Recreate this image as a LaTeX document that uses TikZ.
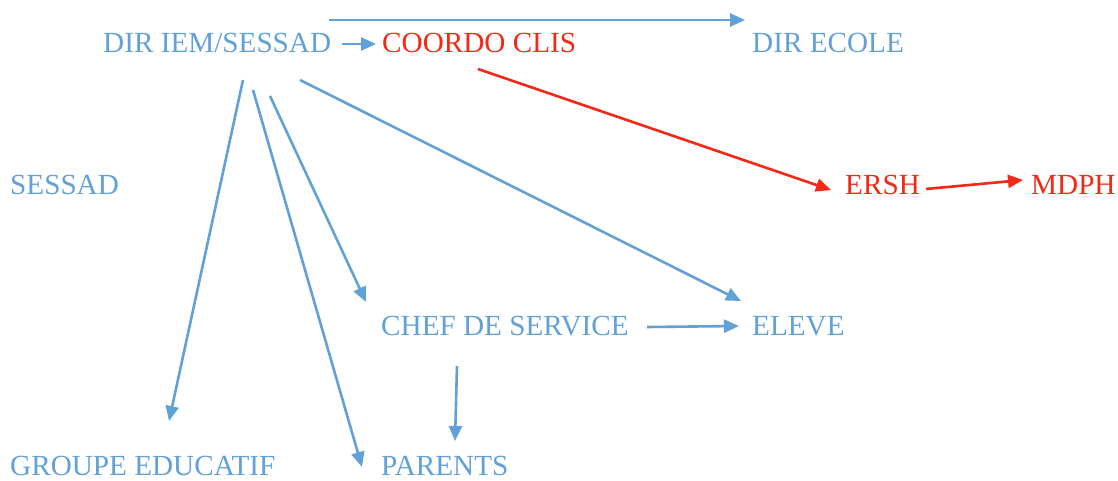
\documentclass[tikz,border=0pt]{standalone}
\usepackage{fontspec}
\setmainfont{Liberation Serif}
\usetikzlibrary{arrows.meta}
\definecolor{bl}{RGB}{98,160,216}
\definecolor{rd}{RGB}{244,40,20}
\begin{document}
\begin{tikzpicture}[x=1pt,y=-1pt,
  lbl/.style={anchor=base west,inner sep=0pt,font=\fontsize{29.2}{30}\selectfont},
  bt/.style={lbl,text=bl},
  rt/.style={lbl,text=rd},
  ba/.style={draw=bl,line width=2.6pt,-{Triangle[length=15pt,width=13pt]}},
  ra/.style={draw=rd,line width=2.6pt,-{Triangle[length=15pt,width=13pt]}}]
\useasboundingbox (0,0) rectangle (1118,481);
\node[bt] (dir) at (103,53) {DIR IEM/SESSAD};
\node[rt] (coordo) at (382,53) {COORDO CLIS};
\node[bt] (ecole) at (752,53) {DIR ECOLE};
\node[bt] (sessad) at (10,194) {SESSAD};
\node[rt] (ersh) at (845,194) {ERSH};
\node[rt] (mdph) at (1031,194) {MDPH};
\node[bt] (chef) at (381,335) {CHEF DE SERVICE};
\node[bt] (eleve) at (752,335) {ELEVE};
\node[bt] (groupe) at (10,475) {GROUPE EDUCATIF};
\node[bt] (parents) at (381,475) {PARENTS};
% connector endpoints
\coordinate (a1s) at (329,20); \coordinate (a1e) at (745,20);
\coordinate (a2s) at (342,44); \coordinate (a2e) at (376,44);
\coordinate (a3s) at (478,69); \coordinate (a3e) at (831,190);
\coordinate (a4s) at (926,189); \coordinate (a4e) at (1023,180);
\coordinate (a5s) at (243,80); \coordinate (a5e) at (169,421);
\coordinate (a6s) at (253,90); \coordinate (a6e) at (362,467);
\coordinate (a7s) at (270,96); \coordinate (a7e) at (366,302);
\coordinate (a8s) at (300,80); \coordinate (a8e) at (741,301);
\coordinate (a9s) at (647,327); \coordinate (a9e) at (739,326);
\coordinate (a10s) at (457,366); \coordinate (a10e) at (455,441);
\draw[ba] (a1s) -- (a1e);
\draw[ba] (a2s) -- (a2e);
\draw[ra] (a3s) -- (a3e);
\draw[ra] (a4s) -- (a4e);
\draw[ba] (a5s) -- (a5e);
\draw[ba] (a6s) -- (a6e);
\draw[ba] (a7s) -- (a7e);
\draw[ba] (a8s) -- (a8e);
\draw[ba] (a9s) -- (a9e);
\draw[ba] (a10s) -- (a10e);
\end{tikzpicture}
\end{document}
